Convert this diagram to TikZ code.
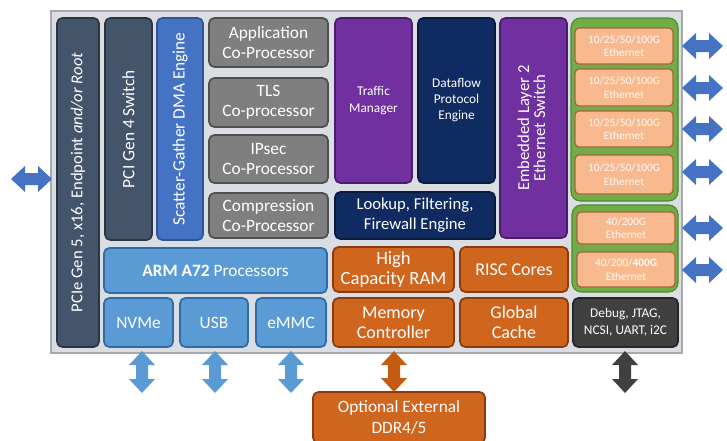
\documentclass[tikz,border=0pt]{standalone}
\usepackage{fontspec}
\setmainfont{Carlito}
\usepackage{graphicx}
\definecolor{panelc}{HTML}{DADDE1}
\definecolor{paneld}{HTML}{A6A9AD}
\definecolor{slatec}{HTML}{44546A}
\definecolor{slated}{HTML}{2B3645}
\definecolor{sgc}{HTML}{4472C4}
\definecolor{sgd}{HTML}{2F5597}
\definecolor{grayc}{HTML}{7F7F7F}
\definecolor{grayd}{HTML}{4F4F4F}
\definecolor{purpc}{HTML}{7030A0}
\definecolor{purpd}{HTML}{4A1D6C}
\definecolor{navyc}{HTML}{102A62}
\definecolor{navyd}{HTML}{0A1A3D}
\definecolor{lbluec}{HTML}{5B9BD5}
\definecolor{lblued}{HTML}{2E6BA8}
\definecolor{orc}{HTML}{D0651E}
\definecolor{ord}{HTML}{8A3C0E}
\definecolor{ethc}{HTML}{F8B98E}
\definecolor{ethd}{HTML}{A8663C}
\definecolor{grnc}{HTML}{70AD47}
\definecolor{grnd}{HTML}{4E8A2E}
\definecolor{dbgc}{HTML}{404040}
\definecolor{dbgd}{HTML}{262626}
\definecolor{arrb}{HTML}{4472C4}
\definecolor{arrl}{HTML}{5B9BD5}
\definecolor{arro}{HTML}{C55A11}
\definecolor{arrd}{HTML}{404040}
\tikzset{
  bx/.style={rounded corners=4pt, line width=1.3pt, inner sep=1pt, align=center, text=white},
  slatebox/.style={bx, fill=slatec, draw=slated, font=\fontsize{12.5}{15}\selectfont},
  sgbox/.style={bx, fill=sgc, draw=sgd, font=\fontsize{13}{15}\selectfont},
  graybox/.style={bx, fill=grayc, draw=grayd, font=\fontsize{13}{15}\selectfont},
  purpbox/.style={bx, fill=purpc, draw=purpd},
  navybox/.style={bx, fill=navyc, draw=navyd},
  lbbox/.style={bx, fill=lbluec, draw=lblued, font=\fontsize{13}{15}\selectfont},
  orbox/.style={bx, fill=orc, draw=ord, font=\fontsize{13.5}{15}\selectfont},
  ethbox/.style={bx, rounded corners=3pt, line width=1pt, fill=ethc, draw=ethd, text=white!95!ethc, font=\fontsize{8.5}{10}\selectfont},
  grnbox/.style={rounded corners=7pt, line width=0.8pt, fill=grnc, draw=grnd},
  dbgbox/.style={bx, fill=dbgc, draw=dbgd, font=\fontsize{10}{12.5}\selectfont},
  panel/.style={fill=panelc, draw=paneld, line width=1pt},
}
\newcommand\bx[7]{\node[#2, minimum width={(#5-#3)*0.75pt}, minimum height={(#6-#4)*0.75pt}] (#1) at ({(#3+#5)/2},{(#4+#6)/2}) {#7};}
% horizontal double block arrow: colour, x1, x2, y
\newcommand\harrow[4]{\fill[#1] (#2,#4) -- (#2+14,#4-13) -- (#2+14,#4-6) -- (#3-14,#4-6) -- (#3-14,#4-13) -- (#3,#4) -- (#3-14,#4+13) -- (#3-14,#4+6) -- (#2+14,#4+6) -- (#2+14,#4+13) -- cycle;}
% vertical double block arrow: colour, x, y1, y2
\newcommand\varrow[4]{\fill[#1] (#2,#3) -- (#2+13,#3+14) -- (#2+6,#3+14) -- (#2+6,#4-14) -- (#2+13,#4-14) -- (#2,#4) -- (#2-13,#4-14) -- (#2-6,#4-14) -- (#2-6,#3+14) -- (#2-13,#3+14) -- cycle;}
\begin{document}
\begin{tikzpicture}[x=0.75pt,y=-0.75pt]
\useasboundingbox (0,0) rectangle (727,440);
% main panel
\bx{panel}{panel, minimum width=0pt}{51}{11}{682}{353}{}
% left column
\bx{pcie}{slatebox}{57}{18}{99}{347}{\rotatebox{90}{PCIe Gen 5, x16, Endpoint \textit{and/or Root}}}
\bx{sw}{slatebox, font=\fontsize{13}{15}\selectfont}{105}{18}{152}{240}{\rotatebox{90}{PCI Gen 4 Switch}}
\bx{sg}{sgbox}{157}{18}{203}{240}{\rotatebox{90}{Scatter-Gather DMA Engine}}
% co-processors
\bx{app}{graybox}{209}{18}{328}{67}{Application\\Co-Processor}
\bx{tls}{graybox}{209}{78}{328}{127}{TLS\\Co-processor}
\bx{ipsec}{graybox}{209}{135}{328}{183}{IPsec\\Co-Processor}
\bx{comp}{graybox}{209}{193}{328}{238}{Compression\\Co-Processor}
% middle
\bx{tm}{purpbox, font=\fontsize{10}{12.5}\selectfont}{335}{18}{412}{183}{Traffic\\Manager}
\bx{df}{navybox, font=\fontsize{10}{12}\selectfont}{418}{18}{495}{183}{Dataflow\\Protocol\\Engine}
\bx{lk}{navybox, font=\fontsize{12.5}{15}\selectfont}{335}{192}{495}{239}{Lookup, Filtering,\\Firewall Engine}
\bx{l2}{purpbox, font=\fontsize{12.5}{13.5}\selectfont}{500}{18}{567}{238}{\rotatebox{90}{\begin{tabular}{@{}c@{}}Embedded Layer 2\\[-1.5pt]Ethernet Switch\end{tabular}}}
% ethernet groups
\bx{g1}{grnbox}{571}{18}{678}{201}{}
\bx{g2}{grnbox}{572}{205}{678}{292}{}
\bx{e1}{ethbox}{575}{28}{673}{64}{10/25/50/100G\\Ethernet}
\bx{e2}{ethbox}{575}{69}{673}{106}{10/25/50/100G\\Ethernet}
\bx{e3}{ethbox}{575}{111}{673}{147}{10/25/50/100G\\Ethernet}
\bx{e4}{ethbox}{575}{155}{673}{194}{10/25/50/100G\\Ethernet}
\bx{e5}{ethbox}{577}{212}{675}{244}{40/200G\\Ethernet}
\bx{e6}{ethbox}{577}{252}{675}{287}{40/200/\textbf{400G}\\Ethernet}
% bottom rows
\bx{arm}{lbbox}{104}{248}{327}{293}{\textbf{ARM A72} Processors}
\bx{nvme}{lbbox}{104}{298}{173}{347}{NVMe}
\bx{usb}{lbbox}{180}{298}{248}{347}{USB}
\bx{emmc}{lbbox}{256}{298}{326}{347}{eMMC}
\bx{ram}{orbox, font=\fontsize{14}{15}\selectfont}{333}{247}{454}{292}{High\\Capacity RAM}
\bx{risc}{orbox}{460}{247}{568}{292}{RISC Cores}
\bx{mc}{orbox}{333}{298}{454}{347}{Memory\\Controller}
\bx{gc}{orbox}{460}{298}{568}{347}{Global\\Cache}
\bx{dbg}{dbgbox}{573}{298}{678}{347}{Debug, JTAG,\\NCSI, UART, i2C}
\bx{ddr}{orbox, font=\fontsize{13}{16}\selectfont}{313}{392}{485}{443}{Optional External\\DDR4/5}
% arrows
\harrow{arrb}{11}{52}{179}
\harrow{arrb}{682}{723}{46}
\harrow{arrb}{682}{723}{88}
\harrow{arrb}{682}{723}{129}
\harrow{arrb}{682}{723}{172}
\harrow{arrb}{682}{723}{228}
\harrow{arrb}{682}{723}{270}
\varrow{arrl}{142}{351}{393}
\varrow{arrl}{215}{351}{393}
\varrow{arrl}{291}{351}{393}
\varrow{arro}{394}{351}{392}
\varrow{arrd}{625}{351}{393}
\end{tikzpicture}
\end{document}
